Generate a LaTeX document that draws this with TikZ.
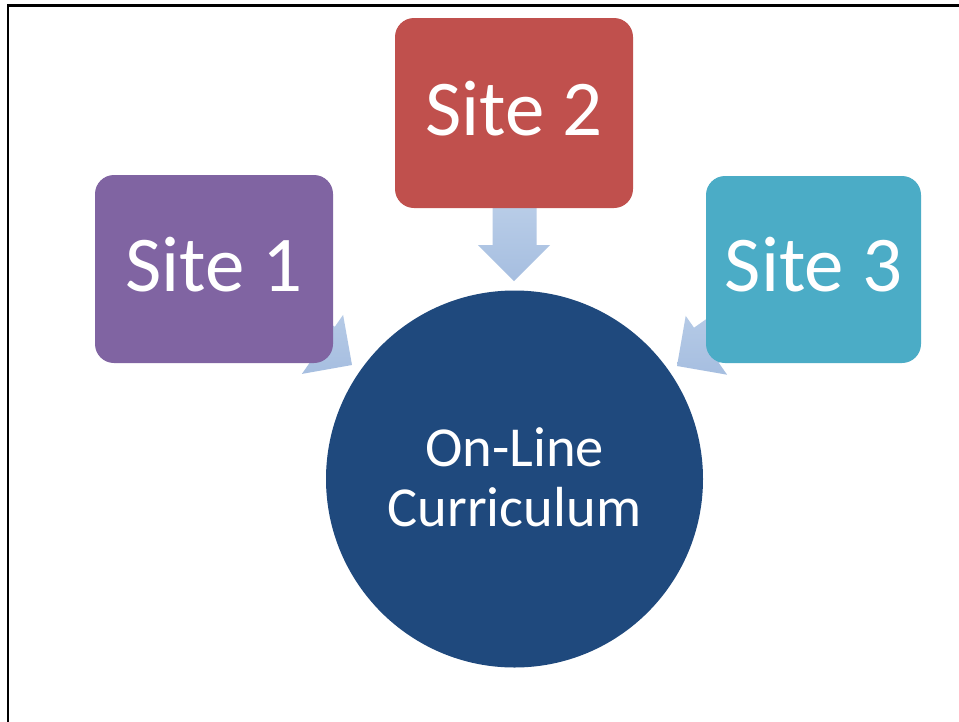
\documentclass[tikz,border=0pt]{standalone}
\usepackage{fontspec}
\setmainfont{Carlito}
\definecolor{sitepurple}{HTML}{8064A2}
\definecolor{sitered}{HTML}{C0504D}
\definecolor{siteteal}{HTML}{4BACC6}
\definecolor{hubnavy}{HTML}{1F497D}
\definecolor{arrtop}{HTML}{BACEE8}
\definecolor{arrbot}{HTML}{A6BEE0}
\begin{document}
\begin{tikzpicture}[x=1pt,y=-1pt,
  sitebox/.style={rounded corners=19pt, minimum width=238pt, minimum height=190pt,
    inner sep=0pt, text=white, text height=44pt, text depth=0pt,
    font=\fontsize{79}{82}\selectfont},
  hub/.style={circle, fill=hubnavy, minimum size=377pt, inner sep=0pt},
  hubtext/.style={text=white, align=center, inner sep=0pt,
    font=\fontsize{56.5}{60}\selectfont},
  blockarrow/.style={top color=arrtop, bottom color=arrbot, draw=none}]
\useasboundingbox (0,0) rectangle (959,721);
\fill[white] (0,0) rectangle (959,721);
\draw[line width=2.6pt] (8,5.6) rectangle (975,740);

% block arrows (behind boxes)
\coordinate (a2tip) at (514,281);
\coordinate (a1tip) at (352,365);
\coordinate (a3tip) at (677,366);
\path[blockarrow] (492.5,200) -- (536.5,200) -- (536.5,245) -- (550,245) -- (a2tip)
  -- (478,245) -- (492.5,245) -- cycle;
\path[blockarrow] (266,331) -- (310.2,362.0) -- (301.9,373.9) -- (a1tip)
  -- (343.1,314.9) -- (334.8,326.8) -- (290.6,295.8) -- cycle;
\path[blockarrow] (738.2,296.7) -- (694.0,327.7) -- (685.7,315.9) -- (a3tip)
  -- (727.1,374.7) -- (718.8,362.9) -- (763,331.9) -- cycle;

% hub
\node[hub] (hub) at (514.5,479) {};
\node[hubtext] (hubtext) at ([yshift=2pt]hub.center) {On-Line\\Curriculum};

% site boxes
\node[sitebox, fill=sitepurple, minimum width=238pt, minimum height=188pt] (s1) at (214,269) {Site 1};
\node[sitebox, fill=sitered, minimum width=238pt, minimum height=190pt] (s2) at (514,113) {Site 2};
\node[sitebox, fill=siteteal, minimum width=215pt, minimum height=187pt] (s3) at (813.5,269.5) {Site 3};
\end{tikzpicture}
\end{document}
